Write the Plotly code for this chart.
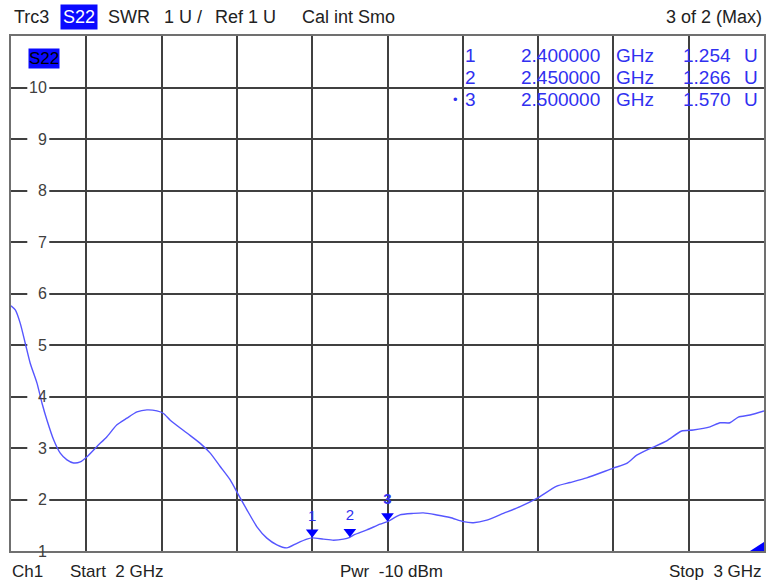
import plotly.graph_objects as go

# ---- data ----
freq_ghz = [2.000, 2.0057, 2.0123, 2.019, 2.0256, 2.0345, 2.0412, 2.0478, 2.0566, 2.0654,
            2.0743, 2.0831, 2.092, 2.1009, 2.1142, 2.1274, 2.1407, 2.154, 2.1673, 2.1805,
            2.1938, 2.2026, 2.2115, 2.2336, 2.2513, 2.2646, 2.2778, 2.2911, 2.3021, 2.3133,
            2.3266, 2.3398, 2.3531, 2.3664, 2.3797, 2.3929, 2.400, 2.415, 2.4283, 2.4415,
            2.450, 2.4548, 2.4726, 2.4902, 2.500, 2.5165, 2.5344, 2.5477, 2.5655, 2.5831,
            2.6008, 2.6141, 2.6319, 2.6539, 2.6761, 2.6983, 2.7248, 2.7425, 2.7646, 2.800,
            2.8177, 2.831, 2.8487, 2.8708, 2.8907, 2.9061, 2.9283, 2.9416, 2.9548, 2.9659,
            2.9814, 3.000]
swr = [5.76, 5.68, 5.42, 5.03, 4.64, 4.26, 3.87, 3.54, 3.16, 2.90,
       2.77, 2.71, 2.73, 2.83, 3.03, 3.22, 3.45, 3.58, 3.70, 3.74,
       3.72, 3.67, 3.54, 3.29, 3.09, 2.90, 2.64, 2.38, 2.09, 1.80,
       1.47, 1.25, 1.12, 1.06, 1.15, 1.23, 1.254, 1.23, 1.21, 1.23,
       1.266, 1.31, 1.41, 1.52, 1.570, 1.70, 1.73, 1.74, 1.70, 1.65,
       1.57, 1.55, 1.60, 1.73, 1.86, 2.02, 2.26, 2.33, 2.42, 2.61,
       2.70, 2.86, 2.99, 3.14, 3.33, 3.35, 3.41, 3.49, 3.49, 3.60,
       3.64, 3.72]

marker_ids = ["1", "2", "3"]
marker_freq = [2.40, 2.45, 2.50]
marker_val = [1.254, 1.266, 1.570]

y_ticks = [1, 2, 3, 4, 5, 6, 7, 8, 9, 10]

FONT = "Liberation Sans, Arial, sans-serif"
BLUE = "#3030f0"

W, H = 777, 581
L, R, T, B = 10.7, 13, 36, 30
pw, ph = W - L - R, H - T - B
X0, X1 = 2.0, 3.0


def px(x, y):
    """pixel position -> paper coords"""
    return (x - L) / pw, (H - B - y) / ph


fig = go.Figure()
fig.add_trace(go.Scatter(x=freq_ghz, y=swr, mode="lines",
                         line=dict(color="#5656ff", width=1.4, shape="spline", smoothing=0.6),
                         hoverinfo="skip"))
fig.add_trace(go.Scatter(
    x=marker_freq, y=[v + 0.11 for v in marker_val], mode="markers+text",
    text=[m if m != "3" else "<b>3</b>" for m in marker_ids],
    textposition="top center",
    textfont=dict(family=FONT, size=15, color=BLUE),
    marker=dict(symbol="triangle-down", size=11, color="#0000ff"),
    hoverinfo="skip"))

ann = []
shapes = []
x0b, _ = px(27, 0)
x1b, _ = px(49, 0)
for v in y_ticks:
    if v == 1:
        shapes.append(dict(type="rect", xref="paper", yref="y", x0=x0b, x1=x1b,
                           y0=v - 0.16, y1=v + 0.16, fillcolor="white", line=dict(width=0),
                           layer="above"))
    else:
        shapes.append(dict(type="rect", xref="x", yref="y",
                           x0=X0 + (X1 - X0) * x0b, x1=X0 + (X1 - X0) * x1b,
                           y0=v - 0.16, y1=v + 0.16, fillcolor="white", line=dict(width=0),
                           layer="between"))
    ann.append(dict(x=x1b, xref="paper", y=v, yref="y", text=str(v),
                    xanchor="right", yanchor="middle", showarrow=False,
                    font=dict(family=FONT, size=16, color="#404040")))


def add_px(text, x, y, anchor="left", size=18, color="#222", **kw):
    xp, yp = px(x, y)
    d = dict(x=xp, y=yp, xref="paper", yref="paper", text=text, showarrow=False,
             xanchor=anchor, yanchor="middle", font=dict(family=FONT, size=size, color=color))
    d.update(kw)
    ann.append(d)


# header
for t, xp_ in [("Trc3", 12), ("SWR", 106), ("1 U /", 162), ("Ref 1 U", 213), ("Cal int Smo", 300)]:
    add_px(t, xp_, 17)
add_px("3 of 2 (Max)", 764, 17, anchor="right")
add_px("S22", 60, 17, size=18, color="white", bgcolor="#0a0aff", borderpad=2)
add_px("S22", 28, 58, size=17, color="black", bgcolor="#0a0aff", borderpad=0)
# footer
add_px("Ch1", 10, 571, size=17)
add_px("Start  2 GHz", 68, 571, size=17)
add_px("Pwr  -10 dBm", 338, 571, size=17)
add_px("Stop  3 GHz", 764, 571, anchor="right", size=17)
# marker table
rows_y = [55, 77, 100]
for i, (m, f, v) in enumerate(zip(marker_ids, marker_freq, marker_val)):
    y = rows_y[i]
    add_px(m, 463, y, size=19, color=BLUE)
    add_px(f"{f:.6f}", 602, y, anchor="right", size=19, color=BLUE)
    add_px("GHz", 614, y, size=19, color=BLUE)
    add_px(f"{v:.3f}", 733, y, anchor="right", size=19, color=BLUE)
    add_px("U", 742, y, size=19, color=BLUE)
add_px("•", 460, 100, anchor="right", size=13, color=BLUE)

shapes.append(dict(type="path", xref="paper", yref="paper",
                   path=f"M {(750 - L) / pw} 0 L 1 0 L 1 {9 / ph} Z",
                   fillcolor="#0000ff", line=dict(width=0)))

fig.update_layout(
    width=W, height=H, margin=dict(l=L, r=R, t=T, b=B),
    paper_bgcolor="white", plot_bgcolor="white", showlegend=False,
    annotations=ann, shapes=shapes,
    xaxis=dict(range=[X0, X1], dtick=0.1, tick0=2, showgrid=True, gridcolor="#404040", gridwidth=1.5,
               zeroline=False, showticklabels=False, ticks="", showline=True, linecolor="#707070",
               linewidth=2, mirror=True, fixedrange=True),
    yaxis=dict(range=[1, 11], dtick=1, tick0=1, showgrid=True, gridcolor="#404040", gridwidth=1.5,
               zeroline=False, showticklabels=False, ticks="", showline=True, linecolor="#707070",
               linewidth=2, mirror=True, fixedrange=True),
)
fig.write_html("out.html", config=dict(displayModeBar=False),
               post_script="document.body.style.margin='0';document.body.style.overflow='hidden';")
